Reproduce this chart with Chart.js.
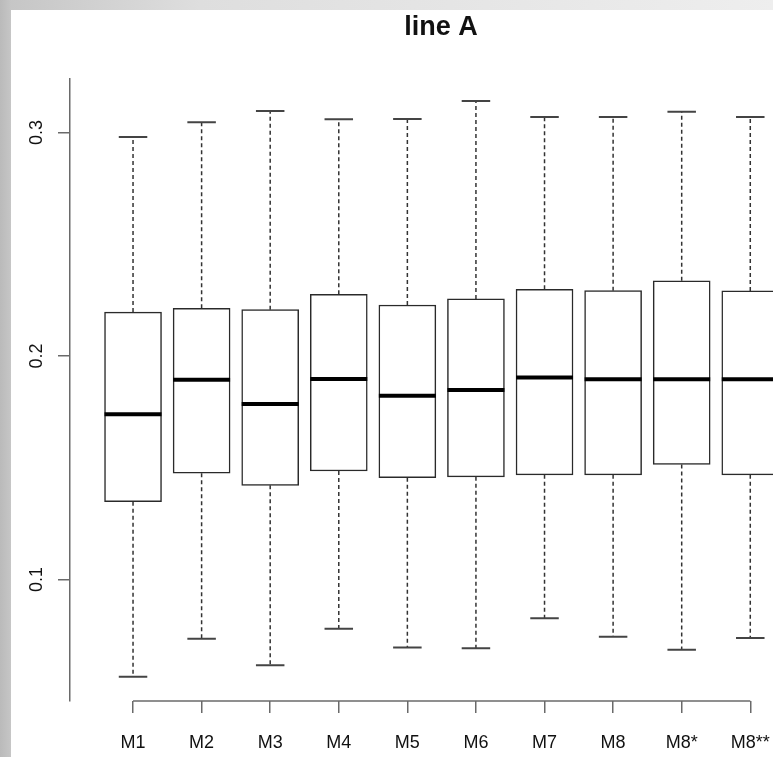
<!DOCTYPE html>
<html>
<head>
<meta charset="utf-8">
<script src="https://cdn.jsdelivr.net/npm/chart.js@4/dist/chart.umd.min.js"></script>
<style>
  html, body {
    margin: 0;
    width: 773px;
    height: 757px;
    overflow: hidden;
    background: linear-gradient(to right, #bababa 0px, #c6c6c6 11px, #dedede 200px, #eeeeee 773px);
  }
  #wrap {
    position: absolute;
    left: 11px;
    top: 10px;
    width: 862px;
    height: 747px;
    background: #fff;
  }
</style>
</head>
<body>
<div id="wrap"><canvas id="chart" width="862" height="747"></canvas></div>
<script>
// data
const categories = ["M1", "M2", "M3", "M4", "M5", "M6", "M7", "M8", "M8*", "M8**"];
const whiskerHi = [0.2980, 0.3046, 0.3096, 0.3059, 0.3060, 0.3141, 0.3069, 0.3069, 0.3093, 0.3069];
const q3 = [0.2196, 0.2213, 0.2207, 0.2276, 0.2228, 0.2255, 0.2298, 0.2292, 0.2336, 0.2291];
const median = [0.1739, 0.1893, 0.1785, 0.1897, 0.1822, 0.1847, 0.1903, 0.1896, 0.1896, 0.1896];
const q1 = [0.1348, 0.1475, 0.1421, 0.1485, 0.1455, 0.1459, 0.1468, 0.1468, 0.1514, 0.1468];
const whiskerLo = [0.0564, 0.0735, 0.0616, 0.0779, 0.0695, 0.0692, 0.0826, 0.0744, 0.0685, 0.0738];
const yTicks = [0.1, 0.2, 0.3];

const FONT = "'Liberation Sans', Arial, Helvetica, sans-serif";
const AXIS_GREY = "#6a6a6a";
const BOX_W = 57;

// whiskers, caps, medians and the R style x axis line
const boxExtras = {
  id: "boxExtras",
  afterDatasetsDraw(chart) {
    const { ctx, scales: { x, y }, chartArea } = chart;
    ctx.save();
    categories.forEach((c, i) => {
      const cx = x.getPixelForValue(i + 1);
      const yHi = y.getPixelForValue(whiskerHi[i]);
      const yQ3 = y.getPixelForValue(q3[i]);
      const yQ1 = y.getPixelForValue(q1[i]);
      const yLo = y.getPixelForValue(whiskerLo[i]);
      const yMed = y.getPixelForValue(median[i]);

      // dashed whiskers
      ctx.strokeStyle = "#333";
      ctx.lineWidth = 1.5;
      ctx.setLineDash([4, 3]);
      ctx.beginPath();
      ctx.moveTo(cx, yQ3);
      ctx.lineTo(cx, yHi);
      ctx.moveTo(cx, yQ1);
      ctx.lineTo(cx, yLo);
      ctx.stroke();

      // caps
      ctx.setLineDash([]);
      ctx.strokeStyle = "#444";
      ctx.lineWidth = 2;
      ctx.beginPath();
      ctx.moveTo(cx - BOX_W / 4, yHi);
      ctx.lineTo(cx + BOX_W / 4, yHi);
      ctx.moveTo(cx - BOX_W / 4, yLo);
      ctx.lineTo(cx + BOX_W / 4, yLo);
      ctx.stroke();

      // median
      ctx.strokeStyle = "#000";
      ctx.lineWidth = 4;
      ctx.beginPath();
      ctx.moveTo(cx - BOX_W / 2, yMed);
      ctx.lineTo(cx + BOX_W / 2, yMed);
      ctx.stroke();
    });

    // x axis line only between first and last tick
    ctx.strokeStyle = AXIS_GREY;
    ctx.lineWidth = 1.5;
    ctx.beginPath();
    ctx.moveTo(x.getPixelForValue(1), chartArea.bottom);
    ctx.lineTo(x.getPixelForValue(categories.length), chartArea.bottom);
    ctx.stroke();
    ctx.restore();
  }
};

const ctx = document.getElementById("chart").getContext("2d");
new Chart(ctx, {
  type: "bar",
  data: {
    datasets: [{
      label: "IQR",
      data: categories.map((c, i) => ({ x: i + 1, y: [q1[i], q3[i]] })),
      backgroundColor: "#ffffff",
      borderColor: "#2a2a2a",
      borderWidth: 1.5,
      borderSkipped: false,
      barThickness: BOX_W
    }]
  },
  options: {
    responsive: false,
    animation: false,
    layout: { padding: { left: 0, right: 61, top: 0, bottom: 5 } },
    plugins: {
      legend: { display: false },
      tooltip: { enabled: false },
      title: {
        display: true,
        text: "line A",
        fullSize: false,
        color: "#111",
        font: { family: FONT, size: 27, weight: "bold" },
        padding: { top: 1, bottom: 35.6 }
      }
    },
    scales: {
      x: {
        type: "linear",
        min: 0.081,
        max: 10.9,
        offset: false,
        afterBuildTicks: s => { s.ticks = categories.map((c, i) => ({ value: i + 1 })); },
        afterFit: s => { s.height = 51; },
        border: { display: false },
        grid: { offset: false, drawOnChartArea: false, drawTicks: true, tickLength: 12, color: AXIS_GREY, lineWidth: 1.5 },
        ticks: {
          autoSkip: false,
          maxRotation: 0,
          padding: 19.2,
          color: "#111",
          font: { family: FONT, size: 18 },
          callback: v => categories[v - 1]
        }
      },
      y: {
        min: 0.0456,
        max: 0.3239,
        afterBuildTicks: s => { s.ticks = yTicks.map(v => ({ value: v })); },
        afterFit: s => { s.width = 59; },
        border: { display: true, color: AXIS_GREY, width: 1.5 },
        grid: { drawOnChartArea: false, drawTicks: true, tickLength: 12, color: AXIS_GREY, lineWidth: 1.5 },
        ticks: {
          minRotation: 90,
          crossAlign: "center",
          padding: 8.5,
          color: "#111",
          font: { family: FONT, size: 18 },
          callback: v => v.toFixed(1)
        }
      }
    }
  },
  plugins: [boxExtras]
});
</script>
</body>
</html>
